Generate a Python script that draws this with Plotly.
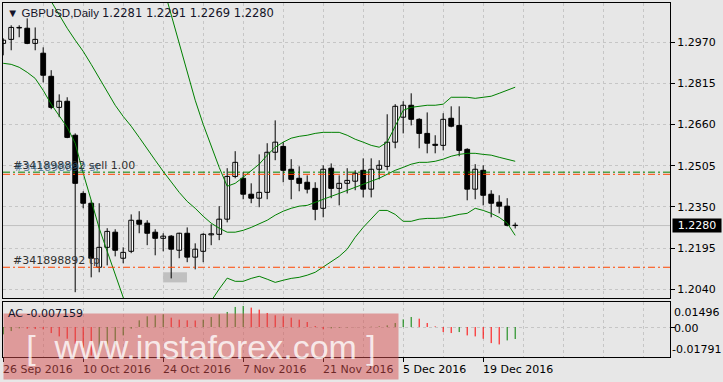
import plotly.graph_objects as go
import pandas as pd

# ---------------- data ----------------
DATES = pd.bdate_range("2016-09-26", periods=65)

OPEN = [1.2966, 1.2981, 1.3024, 1.3023, 1.2966, 1.2929, 1.2842, 1.2725, 1.2748, 1.2620,
        1.2401, 1.2364, 1.2123, 1.2198, 1.2255, 1.2157, 1.2183, 1.2300, 1.2289, 1.2255,
        1.2232, 1.2240, 1.2187, 1.2251, 1.2161, 1.2183, 1.2245, 1.2247, 1.2304, 1.2465,
        1.2458, 1.2398, 1.2383, 1.2405, 1.2556, 1.2578, 1.2492, 1.2458, 1.2443, 1.2420,
        1.2345, 1.2496, 1.2420, 1.2439, 1.2447, 1.2488, 1.2417, 1.2492, 1.2503, 1.2594,
        1.2688, 1.2733, 1.2680, 1.2627, 1.2586, 1.2582, 1.2684, 1.2657, 1.2567, 1.2417,
        1.2488, 1.2398, 1.2368, 1.2353, 1.2281]
HIGH = [1.2985, 1.3034, 1.3034, 1.3060, 1.3026, 1.2951, 1.2865, 1.2774, 1.2763, 1.2627,
        1.2409, 1.2375, 1.2364, 1.2270, 1.2266, 1.2198, 1.2322, 1.2334, 1.2300, 1.2266,
        1.2251, 1.2244, 1.2253, 1.2273, 1.2213, 1.2251, 1.2285, 1.2353, 1.2496, 1.2560,
        1.2481, 1.2439, 1.2548, 1.2590, 1.2676, 1.2594, 1.2530, 1.2503, 1.2469, 1.2443,
        1.2507, 1.2514, 1.2469, 1.2496, 1.2488, 1.2533, 1.2533, 1.2526, 1.2699, 1.2737,
        1.2748, 1.2778, 1.2684, 1.2706, 1.2620, 1.2703, 1.2729, 1.2729, 1.2571, 1.2511,
        1.2507, 1.2413, 1.2394, 1.2383, 1.2291]
LOW = [1.2921, 1.2940, 1.2989, 1.2963, 1.2940, 1.2819, 1.2718, 1.2688, 1.2609, 1.2029,
       1.2345, 1.2085, 1.2104, 1.2130, 1.2164, 1.2138, 1.2176, 1.2251, 1.2206, 1.2168,
       1.2183, 1.2081, 1.2157, 1.2142, 1.2115, 1.2142, 1.2206, 1.2225, 1.2292, 1.2458,
       1.2379, 1.2364, 1.2349, 1.2379, 1.2526, 1.2443, 1.2379, 1.2409, 1.2401, 1.2300,
       1.2311, 1.2383, 1.2356, 1.2401, 1.2413, 1.2386, 1.2386, 1.2454, 1.2488, 1.2571,
       1.2627, 1.2657, 1.2571, 1.2552, 1.2552, 1.2563, 1.2650, 1.2541, 1.2375, 1.2379,
       1.2356, 1.2311, 1.2326, 1.2277, 1.2269]
CLOSE = [1.2978, 1.3026, 1.3026, 1.2966, 1.2981, 1.2846, 1.2725, 1.2748, 1.2612, 1.2439,
         1.2364, 1.2157, 1.2198, 1.2258, 1.2187, 1.2179, 1.2300, 1.2285, 1.2251, 1.2232,
         1.2240, 1.2191, 1.2251, 1.2161, 1.2191, 1.2247, 1.2249, 1.2304, 1.2465, 1.2518,
         1.2398, 1.2383, 1.2405, 1.2556, 1.2594, 1.2488, 1.2454, 1.2439, 1.2417, 1.2341,
         1.2492, 1.2420, 1.2439, 1.2450, 1.2477, 1.2417, 1.2492, 1.2507, 1.2594, 1.2729,
         1.2733, 1.2680, 1.2627, 1.2590, 1.2582, 1.2680, 1.2654, 1.2563, 1.2417, 1.2492,
         1.2394, 1.2364, 1.2353, 1.2281, 1.2280]

BB_UPPER = [1.3779, 1.3731, 1.3682, 1.3633, 1.3580, 1.3543, 1.3511, 1.3449, 1.3396, 1.3366,
            1.3395, 1.3399, 1.3398, 1.3381, 1.3373, 1.3383, 1.3385, 1.3376, 1.3342, 1.3298,
            1.3181, 1.3075, 1.2966, 1.2857, 1.2752, 1.2661, 1.2582, 1.2499, 1.2428, 1.2439,
            1.2462, 1.2488, 1.2511, 1.2545, 1.2575, 1.2594, 1.2609, 1.2616, 1.2620, 1.2627,
            1.2631, 1.2631, 1.2631, 1.2620, 1.2605, 1.2594, 1.2582, 1.2575, 1.2594, 1.2654,
            1.2714, 1.2725, 1.2729, 1.2733, 1.2733, 1.2737, 1.2763, 1.2763, 1.2763, 1.2759,
            1.2763, 1.2767, 1.2778, 1.2789, 1.2801]
BB_MIDDLE = [1.3335, 1.3309, 1.3279, 1.3245, 1.3207, 1.3166, 1.3124, 1.3072, 1.3023, 1.2978,
             1.2936, 1.2887, 1.2834, 1.2782, 1.2733, 1.2691, 1.2654, 1.2612, 1.2567, 1.2526,
             1.2484, 1.2443, 1.2405, 1.2371, 1.2345, 1.2315, 1.2289, 1.2270, 1.2255, 1.2255,
             1.2262, 1.2273, 1.2285, 1.2300, 1.2319, 1.2334, 1.2345, 1.2353, 1.2356, 1.2368,
             1.2379, 1.2390, 1.2401, 1.2413, 1.2424, 1.2435, 1.2447, 1.2458, 1.2473, 1.2488,
             1.2499, 1.2511, 1.2518, 1.2518, 1.2522, 1.2530, 1.2541, 1.2548, 1.2552, 1.2552,
             1.2548, 1.2545, 1.2537, 1.2530, 1.2522]
BB_LOWER = [1.2891, 1.2887, 1.2876, 1.2857, 1.2834, 1.2789, 1.2737, 1.2695, 1.2650, 1.2590,
            1.2477, 1.2375, 1.2270, 1.2183, 1.2093, 1.1999, 1.1923, 1.1860, 1.1815, 1.1790,
            1.1787, 1.1811, 1.1844, 1.1885, 1.1938, 1.1969, 1.1996, 1.2041, 1.2082, 1.2070,
            1.2070, 1.2081, 1.2089, 1.2078, 1.2066, 1.2074, 1.2081, 1.2085, 1.2093, 1.2104,
            1.2123, 1.2142, 1.2164, 1.2191, 1.2236, 1.2273, 1.2307, 1.2337, 1.2337, 1.2322,
            1.2296, 1.2296, 1.2304, 1.2307, 1.2307, 1.2309, 1.2315, 1.2322, 1.2326, 1.2345,
            1.2337, 1.2326, 1.2311, 1.2289, 1.2243]

AC = [-0.0044, -0.0024, -0.0008, -0.0010, -0.0012, -0.0014, -0.0036, -0.0056, -0.0070, -0.0100,
      -0.0125, -0.0170, -0.0155, -0.0140, -0.0110, -0.0050, -0.0010, 0.0040, 0.0064, 0.0070,
      0.0076, 0.0056, 0.0044, 0.0040, 0.0039, 0.0044, 0.0060, 0.0076, 0.0090, 0.0120,
      0.0126, 0.0116, 0.0104, 0.0084, 0.0070, 0.0064, 0.0056, 0.0044, 0.0030, 0.0006,
      -0.0014, -0.0008, -0.0004, -0.0002, -0.0001, 0.0001, 0.0002, 0.0004, 0.0010, 0.0024,
      0.0046, 0.0060, 0.0050, 0.0024, 0.0004, -0.0030, -0.0036, -0.0030, -0.0050, -0.0056,
      -0.0070, -0.0096, -0.0104, -0.0080, -0.007159]

PRICE_TICKS = [1.2970, 1.2815, 1.2660, 1.2505, 1.2350, 1.2195, 1.2040]
AC_SCALE = [0.01496, -0.01791]
AC_LABELS = ["0.01496", "0.00", "-0.01791"]
ORDER_ID = "#341898892"
ORDER_OPEN = 1.2481
ORDER_SL = 1.2473
ORDER_TP = 1.2123
SYMBOL = "GBPUSD,Daily"

# ---------------- style ----------------
W, H = 723, 382
BG = "#e7e7e7"
GRID = "#c6c6c6"
FONT = "DejaVu Sans"
TXT = "#141428"
GREEN = "#008000"
RED = "#ff0000"
ORANGE = "#ff4500"

def px_x(p):
    return p / W

def px_y(p):
    return 1 - p / H

n = len(CLOSE)
xs = list(range(n))
X_RANGE = [-0.025, 83.35]

fig = go.Figure()

# wicks
wx, wy = [], []
for i in xs:
    wx += [i, i, None]
    wy += [LOW[i], HIGH[i], None]
fig.add_trace(go.Scatter(x=wx, y=wy, mode="lines", line=dict(color="black", width=1),
                         hoverinfo="skip", xaxis="x", yaxis="y"))

# bodies
MIN_BODY = 0.00012
for up in (True, False):
    bx, by, bb = [], [], []
    for i in xs:
        if (CLOSE[i] >= OPEN[i]) == up:
            lo = min(OPEN[i], CLOSE[i])
            hgt = max(abs(CLOSE[i] - OPEN[i]), MIN_BODY)
            bx.append(i)
            by.append(hgt)
            bb.append(lo)
    fig.add_trace(go.Bar(x=bx, y=by, base=bb, width=0.6,
                         marker=dict(color="white" if up else "black",
                                     line=dict(color="black", width=1)),
                         xaxis="x", yaxis="y", hoverinfo="skip"))

# Bollinger bands
for band in (BB_UPPER, BB_MIDDLE, BB_LOWER):
    fig.add_trace(go.Scatter(x=xs, y=band, mode="lines", line=dict(color=GREEN, width=1),
                             xaxis="x", yaxis="y", hoverinfo="skip"))

# AC histogram
gx, gy, rx, ry = [], [], [], []
prev = None
for i, v in enumerate(AC):
    up = prev is None or v > prev
    if up:
        gx += [i, i, None]; gy += [0, v, None]
    else:
        rx += [i, i, None]; ry += [0, v, None]
    prev = v
fig.add_trace(go.Scatter(x=gx, y=gy, mode="lines", line=dict(color=GREEN, width=1),
                         xaxis="x2", yaxis="y2", hoverinfo="skip"))
fig.add_trace(go.Scatter(x=rx, y=ry, mode="lines", line=dict(color=RED, width=1),
                         xaxis="x2", yaxis="y2", hoverinfo="skip"))

shapes = []
# gray marker box
shapes.append(dict(type="rect", xref="x", yref="y", x0=19.97, x1=22.97, y0=1.2066, y1=1.2104,
                   fillcolor="#c0c0c0", line=dict(width=0), layer="below"))
# bid line
shapes.append(dict(type="line", xref="x domain", yref="y", x0=0, x1=1, y0=CLOSE[-1], y1=CLOSE[-1],
                   line=dict(color="#c0c0c0", width=1), layer="below"))
# order lines
DD = "7px,3px,2px,3px"
shapes.append(dict(type="line", xref="x domain", yref="y", x0=0, x1=1, y0=ORDER_OPEN, y1=ORDER_OPEN,
                   line=dict(color=GREEN, width=1, dash=DD)))
shapes.append(dict(type="line", xref="x domain", yref="y", x0=0, x1=1, y0=ORDER_SL, y1=ORDER_SL,
                   line=dict(color=ORANGE, width=1, dash=DD)))
shapes.append(dict(type="line", xref="x domain", yref="y", x0=0, x1=1, y0=ORDER_TP, y1=ORDER_TP,
                   line=dict(color=ORANGE, width=1, dash=DD)))

ann = []
f11 = dict(family=FONT, size=11, color=TXT)
# title (symbol + OHLC of last bar)
ann.append(dict(xref="paper", yref="paper", x=px_x(5), y=px_y(13), xanchor="left", yanchor="middle",
                text=f"▼ {SYMBOL}", showarrow=False,
                font=dict(family="Liberation Sans", size=11.5, color=TXT)))
ann.append(dict(xref="paper", yref="paper", x=px_x(100), y=px_y(13), xanchor="left", yanchor="middle",
                text=f"{OPEN[-1]:.4f} {HIGH[-1]:.4f} {LOW[-1]:.4f} {CLOSE[-1]:.4f}",
                showarrow=False, font=dict(family=FONT, size=11.5, color=TXT)))
# order labels
ann.append(dict(xref="x", yref="y", x=1.0, y=ORDER_OPEN, xanchor="left", yanchor="bottom",
                text=f"{ORDER_ID} sell 1.00", showarrow=False, yshift=-2,
                font=dict(family=FONT, size=11, color="#303030")))
ann.append(dict(xref="x", yref="y", x=1.0, y=ORDER_SL, xanchor="left", yanchor="bottom",
                text=f"{ORDER_ID} sl", showarrow=False, xshift=1, yshift=-2,
                font=dict(family=FONT, size=11, color="rgba(40,90,130,0.7)")))
ann.append(dict(xref="x", yref="y", x=1.0, y=ORDER_TP, xanchor="left", yanchor="bottom",
                text=f"{ORDER_ID} tp", showarrow=False, yshift=-2,
                font=dict(family=FONT, size=11, color="#303030")))
# current price box
ann.append(dict(xref="paper", yref="y", x=px_x(672), y=CLOSE[-1], xanchor="left", yanchor="middle",
                text=f"{CLOSE[-1]:.4f}", showarrow=False, bgcolor="black", width=48, height=13,
                borderpad=0, font=dict(family=FONT, size=11, color="white")))
# date labels
for i in range(0, n, 10):
    ann.append(dict(xref="x2", yref="paper", x=i, y=px_y(369), xanchor="left", yanchor="middle",
                    text=f"{DATES[i].day} {DATES[i].strftime('%b %Y')}", showarrow=False,
                    xshift=-2, font=dict(family=FONT, size=11, color="black")))
# AC scale labels
ac_vals = [AC_SCALE[0], 0.0, AC_SCALE[1]]
shifts = [-10, -1, 8]
for v, t, s in zip(ac_vals, AC_LABELS, shifts):
    left = 671 if t.startswith("-") else 673
    ann.append(dict(xref="paper", yref="y2", x=px_x(left), y=v, yshift=s, xanchor="left",
                    yanchor="middle", text=t, showarrow=False, borderpad=0,
                    font=dict(family=FONT, size=11, color="black")))
# watermark
ann.append(dict(xref="paper", yref="paper", x=px_x(3), y=px_y(313), xanchor="left", yanchor="top",
                width=394, height=65, bgcolor="rgba(214,78,78,0.5)", borderpad=0,
                text="[  www.instaforex.com ]", showarrow=False, valign="middle",
                font=dict(family="Liberation Sans", size=34, color="rgba(255,255,255,0.8)")))
# AC label
ann.append(dict(xref="paper", yref="paper", x=px_x(6), y=px_y(313), xanchor="left", yanchor="middle",
                text=f"AC {AC[-1]:.6f}", showarrow=False, font=f11))

axis_common = dict(showline=True, mirror=True, linecolor="black", linewidth=1, zeroline=False)
grid_common = dict(showgrid=True, gridcolor=GRID, griddash="3px,3px", gridwidth=1)

fig.update_layout(
    width=W, height=H, margin=dict(l=0, r=0, t=0, b=0),
    paper_bgcolor=BG, plot_bgcolor=BG, showlegend=False, barmode="overlay",
    shapes=shapes, annotations=ann,
    xaxis=dict(domain=[px_x(3), px_x(670)], range=X_RANGE, anchor="y",
               tickvals=list(range(0, 84, 5)), showticklabels=False, ticks="",
               **grid_common, **axis_common),
    yaxis=dict(domain=[px_y(298), px_y(3)], range=[1.20072, 1.31180], anchor="x", side="right",
               tickvals=PRICE_TICKS, ticktext=[f"{t:.4f}" for t in PRICE_TICKS],
               ticks="outside", ticklen=4, tickcolor="black",
               tickfont=dict(family=FONT, size=11, color="black"),
               **grid_common, **axis_common),
    xaxis2=dict(domain=[px_x(3), px_x(670)], range=X_RANGE, anchor="y2",
                tickvals=list(range(0, 84, 5)), showticklabels=False, ticks="",
                minor=dict(tickvals=list(range(0, n, 10)), ticks="outside", ticklen=4,
                           tickcolor="black", showgrid=False),
                **grid_common, **axis_common),
    yaxis2=dict(domain=[px_y(357), px_y(302)], range=[AC_SCALE[1], AC_SCALE[0]], anchor="x2",
                side="right", tickvals=[0], showticklabels=False, ticks="outside", ticklen=4,
                tickcolor="black", **grid_common, **axis_common),
)

fig.write_html("out.html")
